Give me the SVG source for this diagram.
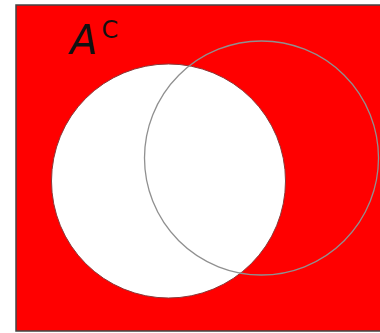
<svg xmlns="http://www.w3.org/2000/svg" width="380" height="333" viewBox="0 0 380 333">
<style>
.lbl{font-family:"DejaVu Sans","Liberation Sans",sans-serif;font-style:italic;fill:#111}
</style>
<rect x="0" y="0" width="380" height="333" fill="#ffffff"/>
<g id="universe">
<rect x="16" y="5" width="370" height="326" fill="#ff0000" stroke="#444" stroke-width="1.5"/>
</g>
<g id="setA">
<circle cx="168.5" cy="181" r="117" fill="#ffffff" stroke="#8a3a3a" stroke-width="1"/>
</g>
<g id="setB">
<circle cx="261.5" cy="158" r="117" fill="none" stroke="#909090" stroke-width="1.3"/>
</g>
<g id="label">
<text class="lbl" x="70" y="54" font-size="40">A<tspan font-size="24" dx="4" dy="-16" font-style="normal">C</tspan></text>
</g>
</svg>
